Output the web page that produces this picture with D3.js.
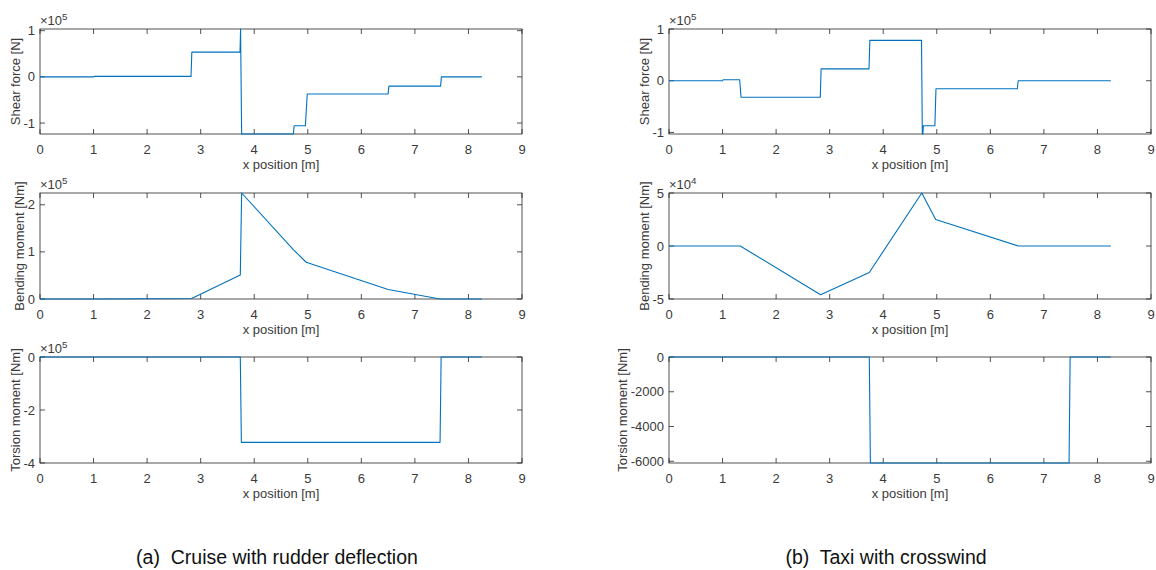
<!DOCTYPE html>
<html>
<head>
<meta charset="utf-8">
<script src="https://cdn.jsdelivr.net/npm/d3@7/dist/d3.min.js"></script>
<style>
  html, body { margin: 0; padding: 0; background: #fff; }
  svg { display: block; font-family: "Liberation Sans", Arial, Helvetica, sans-serif; }
  .cap { white-space: pre; }
</style>
</head>
<body>
<svg id="chart" width="1156" height="570"></svg>
<script>
// ---------------- data ----------------
const xTicks = [0, 1, 2, 3, 4, 5, 6, 7, 8, 9];
const xTitle = "x position [m]";

// (a) Cruise with rudder deflection  (values in 1e5 units)
const cruiseShearX = [0, 1, 1.01, 2.82, 2.835, 3.735, 3.745, 3.765, 4.73, 4.745, 4.955, 4.99, 6.5, 6.515, 7.48, 7.495, 8.25];
const cruiseShearY = [0, 0, 0.01, 0.01, 0.536, 0.536, 1.036, -1.237, -1.237, -1.06, -1.06, -0.37, -0.37, -0.2, -0.2, 0, 0];
const cruiseShearTicks = [-1, 0, 1];

const cruiseMomentX = [0, 1, 2.83, 3.74, 3.765, 4.73, 4.97, 6.5, 7.47, 8.25];
const cruiseMomentY = [0, 0, 0.01, 0.51, 2.25, 1.05, 0.78, 0.2, 0, 0];
const cruiseMomentTicks = [0, 1, 2];

const cruiseTorsionX = [0, 3.74, 3.76, 7.47, 7.49, 8.25];
const cruiseTorsionY = [0, 0, -3.22, -3.22, 0, 0];
const cruiseTorsionTicks = [-4, -2, 0];

// (b) Taxi with crosswind
const taxiShearX = [0, 1, 1.01, 1.32, 1.345, 2.825, 2.84, 3.735, 3.75, 4.715, 4.73, 4.74, 4.75, 4.965, 4.985, 6.505, 6.52, 8.25];
const taxiShearY = [0, 0, 0.02, 0.02, -0.32, -0.32, 0.23, 0.23, 0.78, 0.78, -1.03, -1.03, -0.87, -0.87, -0.155, -0.155, 0, 0]; // 1e5
const taxiShearTicks = [-1, 0, 1];

const taxiMomentX = [0, 1.33, 2.83, 3.74, 4.72, 4.98, 6.52, 8.25];
const taxiMomentY = [0, 0, -4.6, -2.5, 5.0, 2.5, 0, 0]; // 1e4
const taxiMomentTicks = [-5, 0, 5];

const taxiTorsionX = [0, 3.74, 3.76, 7.47, 7.49, 8.25];
const taxiTorsionY = [0, 0, -6100, -6100, 0, 0]; // Nm
const taxiTorsionTicks = [-6000, -4000, -2000, 0];

const yLabels = ["Shear force [N]", "Bending moment [Nm]", "Torsion moment [Nm]"];
const captions = ["(a)  Cruise with rudder deflection", "(b)  Taxi with crosswind"];

// ---------------- layout ----------------
const svg = d3.select("#chart");
const lineColor = "#0072BD";
const axisColor = "#262626";
const textColor = "#3a3a3a";
const colX = [[40, 522], [669, 1151]];
const rowY = [[29, 134], [193, 299], [357, 463]];

const panels = [
  {col: 0, row: 0, xs: cruiseShearX, ys: cruiseShearY, dom: [-1.237, 1.036], ticks: cruiseShearTicks, exp: "5"},
  {col: 0, row: 1, xs: cruiseMomentX, ys: cruiseMomentY, dom: [0, 2.25], ticks: cruiseMomentTicks, exp: "5"},
  {col: 0, row: 2, xs: cruiseTorsionX, ys: cruiseTorsionY, dom: [-4, 0], ticks: cruiseTorsionTicks, exp: "5"},
  {col: 1, row: 0, xs: taxiShearX, ys: taxiShearY, dom: [-1.03, 1], ticks: taxiShearTicks, exp: "5"},
  {col: 1, row: 1, xs: taxiMomentX, ys: taxiMomentY, dom: [-5, 5], ticks: taxiMomentTicks, exp: "4"},
  {col: 1, row: 2, xs: taxiTorsionX, ys: taxiTorsionY, dom: [-6100, 0], ticks: taxiTorsionTicks, exp: null}
];

const fs = 13;
const tickLen = 5;

panels.forEach((p, i) => {
  const [x0, x1] = colX[p.col];
  const [y0, y1] = rowY[p.row];
  const x = d3.scaleLinear().domain([0, 9]).range([x0, x1]);
  const y = d3.scaleLinear().domain(p.dom).range([y1, y0]);
  const g = svg.append("g");

  const clipId = "clip" + i;
  svg.append("clipPath").attr("id", clipId).append("rect")
    .attr("x", x0 - 1).attr("y", y0 - 1).attr("width", x1 - x0 + 2).attr("height", y1 - y0 + 2);

  // box
  g.append("rect").attr("x", x0).attr("y", y0).attr("width", x1 - x0).attr("height", y1 - y0)
    .attr("fill", "none").attr("stroke", axisColor).attr("stroke-width", 0.8);

  // x ticks (bottom + top, inward)
  const xt = g.append("g");
  xTicks.forEach(t => {
    const px = x(t);
    xt.append("line").attr("x1", px).attr("x2", px).attr("y1", y1).attr("y2", y1 - tickLen)
      .attr("stroke", axisColor).attr("stroke-width", 0.8);
    xt.append("line").attr("x1", px).attr("x2", px).attr("y1", y0).attr("y2", y0 + tickLen)
      .attr("stroke", axisColor).attr("stroke-width", 0.8);
    xt.append("text").attr("x", px).attr("y", y1 + 15).attr("dy", "0.35em")
      .attr("text-anchor", "middle").attr("font-size", fs).attr("fill", textColor).text(String(t));
  });

  // y ticks (left + right, inward)
  const ytg = g.append("g");
  p.ticks.forEach(t => {
    const py = y(t);
    g.append("line").attr("x1", x0).attr("x2", x0 + tickLen).attr("y1", py).attr("y2", py)
      .attr("stroke", axisColor).attr("stroke-width", 0.8);
    g.append("line").attr("x1", x1).attr("x2", x1 - tickLen).attr("y1", py).attr("y2", py)
      .attr("stroke", axisColor).attr("stroke-width", 0.8);
    ytg.append("text").attr("x", x0 - 5).attr("y", py).attr("dy", "0.35em")
      .attr("text-anchor", "end").attr("font-size", fs).attr("fill", textColor).text(String(t));
  });
  const tw = ytg.node().getBBox().width;

  // y label
  const ly = (y0 + y1) / 2;
  const lx = x0 - 5 - tw - 8;
  g.append("text").attr("transform", `translate(${lx},${ly}) rotate(-90)`).attr("dy", "0.35em")
    .attr("text-anchor", "middle").attr("font-size", fs).attr("fill", textColor).text(yLabels[p.row]);

  // x title
  g.append("text").attr("x", (x0 + x1) / 2).attr("y", y1 + 30).attr("dy", "0.35em")
    .attr("text-anchor", "middle").attr("font-size", fs).attr("fill", textColor).text(xTitle);

  // exponent
  if (p.exp) {
    const e = g.append("text").attr("x", x0).attr("y", y0 - 4).attr("font-size", fs).attr("fill", textColor);
    e.append("tspan").text("\u00d710");
    e.append("tspan").attr("font-size", fs * 0.75).attr("dy", "-0.5em").text(p.exp);
  }

  // line
  const pts = p.xs.map((xv, k) => [xv, p.ys[k]]);
  g.append("path").datum(pts)
    .attr("clip-path", `url(#${clipId})`)
    .attr("fill", "none").attr("stroke", lineColor).attr("stroke-width", 1.1)
    .attr("stroke-linejoin", "round")
    .attr("d", d3.line().x(d => x(d[0])).y(d => y(d[1])));
});

// captions
const capX = [277, 886];
captions.forEach((c, i) => {
  svg.append("text").attr("class", "cap").attr("x", capX[i]).attr("y", 557).attr("dy", "0.35em")
    .attr("text-anchor", "middle").attr("font-size", 19.5).attr("fill", "#111").text(c);
});
</script>
</body>
</html>
